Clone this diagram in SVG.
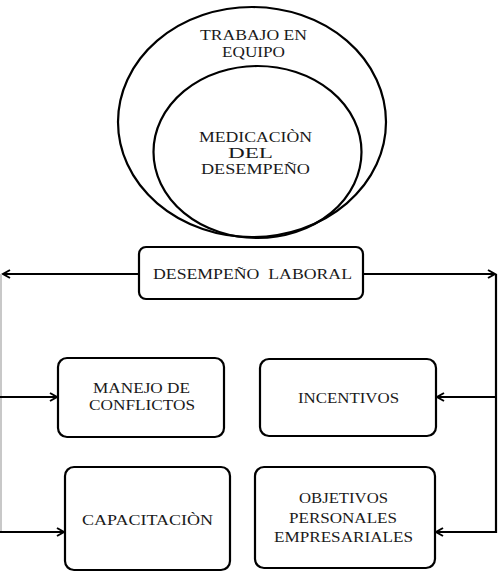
<svg xmlns="http://www.w3.org/2000/svg" width="503" height="572" viewBox="0 0 503 572">
<style>
.n{fill:#fff;stroke:#000;stroke-width:2.2}
.e{fill:none;stroke:#000;stroke-width:2.2}
.t{font-family:"Liberation Serif","Times New Roman",serif;font-size:14.5px;fill:#1a1a1a}
.s{font-size:14px}
.c{fill:none;stroke:#000;stroke-width:2.2}
</style>
<defs>
<marker id="a" markerWidth="10" markerHeight="10" refX="8" refY="5" orient="auto" markerUnits="userSpaceOnUse">
<path d="M1,1 L8,5 L1,9" fill="none" stroke="#000" stroke-width="2"/>
</marker>
</defs>
<g id="trabajo">
<ellipse class="e" cx="252" cy="122" rx="134" ry="115"/>
<text class="t" x="200" y="40" textLength="107" lengthAdjust="spacingAndGlyphs">TRABAJO EN</text>
<text class="t" x="222" y="57" textLength="63" lengthAdjust="spacingAndGlyphs">EQUIPO</text>
</g>
<g id="medicacion">
<ellipse class="e" cx="257.5" cy="152" rx="104" ry="86"/>
<text class="t" x="199" y="142" textLength="113" lengthAdjust="spacingAndGlyphs">MEDICACIÒN</text>
<text class="t" x="228" y="158" textLength="45" lengthAdjust="spacingAndGlyphs">DEL</text>
<text class="t" x="201" y="174" textLength="109" lengthAdjust="spacingAndGlyphs">DESEMPEÑO</text>
</g>
<g id="connectors">
<line class="c" x1="139" y1="274" x2="3" y2="274" marker-end="url(#a)"/>
<line class="c" x1="363" y1="274" x2="495" y2="274" marker-end="url(#a)"/>
<line x1="1" y1="274" x2="1" y2="532" stroke="#c8c8c8" stroke-width="2"/>
<line class="c" x1="496" y1="274" x2="496" y2="533"/>
<line class="c" x1="0" y1="397" x2="57" y2="397" marker-end="url(#a)"/>
<line class="c" x1="0" y1="532" x2="64" y2="532" marker-end="url(#a)"/>
<line class="c" x1="497" y1="397" x2="437" y2="397" marker-end="url(#a)"/>
<line class="c" x1="497" y1="532" x2="436" y2="532" marker-end="url(#a)"/>
</g>
<g id="desempeno">
<rect class="n" x="139" y="247" width="224" height="52" rx="7"/>
<text class="t" x="153" y="279" textLength="199" lengthAdjust="spacingAndGlyphs" xml:space="preserve">DESEMPEÑO  LABORAL</text>
</g>
<g id="manejo">
<rect class="n" x="58" y="358" width="166" height="79" rx="9"/>
<text class="t s" x="93" y="393" textLength="97" lengthAdjust="spacingAndGlyphs">MANEJO DE</text>
<text class="t s" x="89" y="409.5" textLength="106" lengthAdjust="spacingAndGlyphs">CONFLICTOS</text>
</g>
<g id="incentivos">
<rect class="n" x="260" y="359" width="176" height="77" rx="9"/>
<text class="t" x="298" y="403" textLength="101" lengthAdjust="spacingAndGlyphs">INCENTIVOS</text>
</g>
<g id="capacitacion">
<rect class="n" x="65" y="467" width="165" height="103" rx="9"/>
<text class="t" x="82" y="525" textLength="131" lengthAdjust="spacingAndGlyphs">CAPACITACIÒN</text>
</g>
<g id="objetivos">
<rect class="n" x="255" y="467" width="180" height="101" rx="9"/>
<text class="t" x="299" y="503" textLength="89" lengthAdjust="spacingAndGlyphs">OBJETIVOS</text>
<text class="t" x="289" y="523" textLength="108" lengthAdjust="spacingAndGlyphs">PERSONALES</text>
<text class="t" x="274" y="542" textLength="139" lengthAdjust="spacingAndGlyphs">EMPRESARIALES</text>
</g>
</svg>
